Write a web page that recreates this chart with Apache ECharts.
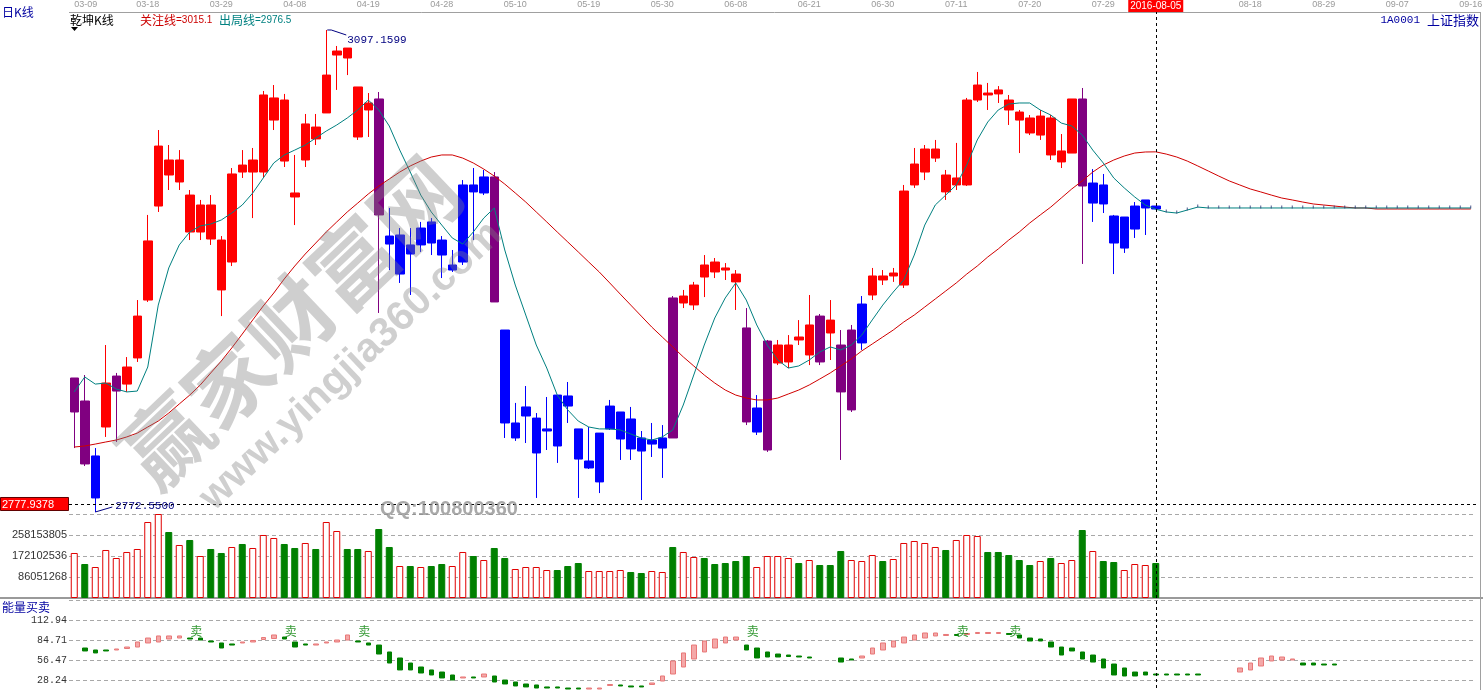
<!DOCTYPE html>
<html><head><meta charset="utf-8">
<script src="https://cdn.jsdelivr.net/npm/echarts@6/dist/echarts.min.js"></script>
<style>html,body{margin:0;padding:0;background:#fff;}#c{width:1483px;height:690px;}</style>
</head><body><div id="c"></div>
<script>
const dates = ['03-09','03-10','03-11','03-14','03-15','03-16','03-17','03-18','03-21','03-22',
'03-23','03-24','03-25','03-28','03-29','03-30','03-31','04-01','04-05','04-06',
'04-07','04-08','04-11','04-12','04-13','04-14','04-15','04-18','04-19','04-20',
'04-21','04-22','04-25','04-26','04-27','04-28','04-29','05-03','05-04','05-05',
'05-06','05-09','05-10','05-11','05-12','05-13','05-16','05-17','05-18','05-19',
'05-20','05-23','05-24','05-25','05-26','05-27','05-30','05-31','06-01','06-02',
'06-03','06-06','06-07','06-08','06-13','06-14','06-15','06-16','06-17','06-20',
'06-21','06-22','06-23','06-24','06-27','06-28','06-29','06-30','07-01','07-04',
'07-05','07-06','07-07','07-08','07-11','07-12','07-13','07-14','07-15','07-18',
'07-19','07-20','07-21','07-22','07-25','07-26','07-27','07-28','07-29','08-01',
'08-02','08-03','08-04','08-05','08-08','08-09','08-10','08-11','08-12','08-15',
'08-16','08-17','08-18','08-19','08-22','08-23','08-24','08-25','08-26','08-29',
'08-30','08-31','09-01','09-02','09-05','09-06','09-07','09-08','09-09','09-12',
'09-13','09-14','09-15','09-16'];

const priceHigh = [2862.8,2864.8,2815.6,2885.0,2866.2,2876.9,2915.3,2972.6,3029.8,3019.7,
3016.3,2989.4,2982.7,2986.0,2958.4,3004.2,3016.3,3017.7,3056.1,3060.1,
3054.1,3013.0,3040.6,3040.6,3097.1599,3086.4,3085.0,3058.8,3054.7,3055.4,
2977.3,2963.8,2963.8,2967.9,2970.5,2958.4,2949.0,2996.1,3004.2,3002.9,
3001.5,2895.1,2846.0,2857.4,2839.2,2850.0,2851.3,2860.1,2828.5,2829.8,
2825.7,2848.0,2839.9,2843.3,2827.1,2832.5,2831.1,2918.0,2922.1,2927.5,
2945.6,2943.6,2940.2,2935.5,2909.9,2851.3,2888.4,2888.4,2891.7,2901.8,
2918.7,2905.9,2915.3,2895.1,2898.5,2918.0,2936.9,2935.5,2936.9,2992.8,
3017.7,3019.7,3023.1,3002.9,3021.1,3051.4,3068.9,3061.5,3059.4,3053.4,
3043.3,3039.9,3043.3,3039.9,3027.1,3050.7,3058.1,3003.5,3000.2,2972.6,
2971.2,2981.3,2982.7,2978.6];
const bodyTop = [2862.8,2847.3,2810.3,2859.4,2864.1,2870.2,2904.5,2955.1,3019.0,3009.6,
3009.6,2986.0,2979.3,2979.3,2955.7,3000.2,3006.2,3009.6,3053.4,3051.4,
3050.0,2987.4,3033.9,3031.8,3066.8,3083.0,3085.0,3058.8,3048.0,3050.7,
2958.4,2959.1,2952.4,2963.8,2967.9,2955.7,2938.9,2992.8,2992.8,2998.2,
2998.2,2895.1,2832.5,2843.3,2835.8,2828.5,2851.3,2850.7,2828.5,2806.9,
2825.7,2843.9,2839.9,2835.2,2822.4,2821.0,2822.4,2916.7,2918.0,2925.4,
2938.9,2940.9,2936.9,2932.8,2896.5,2842.6,2887.7,2885.0,2885.0,2890.4,
2898.5,2904.5,2901.8,2885.0,2895.1,2912.6,2931.5,2931.5,2933.5,2988.7,
3006.9,3017.0,3017.0,2999.5,2997.5,3050.0,3060.1,3054.7,3056.8,3050.0,
3041.9,3037.9,3039.2,3037.9,3015.7,3050.7,3050.7,2994.1,2992.8,2971.9,
2971.2,2978.6,2982.7,2978.6];
const bodyBottom = [2839.9,2804.9,2782.0,2829.8,2854.0,2858.7,2876.3,2915.3,2978.6,2999.5,
2994.8,2961.1,2961.1,2956.4,2922.1,2940.9,3001.5,3001.5,3001.5,3036.5,
3008.9,2984.7,3009.6,3023.8,3041.3,3080.3,3078.3,3025.1,3043.3,2972.6,
2953.0,2932.8,2946.3,2952.4,2953.7,2945.6,2935.5,2940.9,2988.1,2987.4,
2914.0,2832.5,2822.4,2837.2,2812.3,2827.1,2817.0,2843.9,2808.2,2802.2,
2792.8,2828.5,2821.7,2815.0,2813.6,2818.3,2815.6,2822.4,2913.3,2912.0,
2930.8,2934.2,2935.5,2927.5,2833.2,2826.4,2814.3,2872.9,2873.6,2888.4,
2878.3,2873.6,2893.1,2853.4,2841.3,2886.4,2918.7,2928.8,2931.5,2925.4,
2992.8,3001.5,3010.9,2988.1,2992.8,2992.8,3050.0,3053.4,3054.1,3043.3,
3036.5,3027.8,3026.4,3013.0,3008.3,3014.3,2992.1,2980.6,2980.0,2953.7,
2950.3,2963.1,2977.3,2976.6];
const priceLow = [2815.6,2803.5,2772.55,2823.1,2819.7,2853.4,2873.6,2914.0,2974.6,2989.4,
2989.4,2955.7,2955.7,2952.4,2904.5,2938.2,2997.5,2970.5,2997.5,3029.8,
3004.9,2965.8,3004.9,3019.7,3041.3,3056.8,3066.8,3023.1,3025.1,2906.6,
2935.5,2926.8,2918.7,2947.7,2945.6,2930.1,2934.2,2938.9,2955.7,2986.0,
2914.0,2822.4,2820.4,2819.0,2782.0,2814.3,2805.6,2832.5,2782.0,2801.5,
2785.3,2827.8,2807.6,2807.6,2780.6,2809.6,2795.5,2822.4,2909.9,2908.6,
2917.3,2930.1,2928.8,2908.6,2831.1,2824.4,2813.0,2871.5,2869.5,2885.0,
2871.5,2871.5,2874.9,2807.6,2839.9,2881.7,2915.3,2925.4,2927.5,2923.4,
2990.8,2996.1,3008.3,2982.7,2989.4,2992.1,3048.7,3043.3,3048.0,3033.2,
3014.3,3026.4,3023.1,3009.6,3004.2,3014.3,2939.6,2967.9,2973.9,2932.8,
2947.0,2957.1,2959.1,2976.6];
// r = red (bull), b = blue (bear), p = purple (turn)
const candleKind = ['p','p','b','r','p','r','r','r','r','r',
'r','r','r','r','r','r','r','r','r','r',
'r','r','r','r','r','r','r','r','r','p',
'b','b','b','b','b','b','b','b','b','b',
'p','b','b','b','b','b','b','b','b','b',
'b','b','b','b','b','b','b','p','r','r',
'r','r','r','r','p','b','p','r','r','r',
'r','p','r','p','p','b','r','r','r','r',
'r','r','r','r','r','r','r','r','r','r',
'r','r','r','r','r','r','p','b','b','b',
'b','b','b','b'];
// 关注线
const attnLine = [2816.3,2817.0,2818.3,2819.7,2821.0,2823.1,2825.7,2829.8,2833.8,2839.2,
2845.3,2851.3,2858.1,2866.2,2874.2,2883.0,2892.4,2901.9,2911.3,2920.0,
2929.5,2938.2,2946.3,2953.7,2961.1,2967.9,2974.6,2980.6,2986.7,2992.1,
2996.8,3001.5,3005.6,3008.9,3011.6,3013.0,3013.0,3010.9,3007.6,3003.5,
2998.8,2993.4,2987.4,2981.3,2974.6,2967.9,2961.1,2954.4,2947.7,2940.9,
2934.2,2926.8,2919.3,2911.9,2904.5,2897.1,2890.4,2883.7,2877.0,2870.9,
2864.8,2859.4,2854.7,2851.3,2849.3,2848.0,2848.0,2849.3,2852.0,2854.7,
2858.1,2862.1,2866.2,2870.9,2875.6,2881.0,2885.7,2890.4,2895.1,2900.5,
2905.2,2910.6,2916.0,2921.4,2926.8,2932.8,2938.2,2944.3,2949.7,2955.7,
2961.1,2967.2,2972.6,2977.9,2984.0,2990.1,2995.5,3001.5,3006.2,3009.6,
3012.3,3014.3,3015.0,3015.1,3013.6,3011.6,3008.9,3005.6,3002.2,2998.8,
2995.5,2992.8,2990.1,2988.1,2986.0,2984.0,2982.7,2981.3,2980.0,2979.3,
2978.6,2977.9,2977.3,2977.3,2976.6,2976.6,2976.6,2976.6,2976.6,2976.6,
2976.6,2976.6,2976.6,2976.6];
// 出局线
const exitLine = [2853.4,2863.5,2858.7,2859.4,2855.4,2853.4,2854.0,2870.2,2911.9,2936.9,
2952.4,2961.1,2965.2,2966.5,2969.2,2973.9,2979.3,2987.4,2997.5,3007.6,
3013.0,3016.3,3019.7,3024.4,3029.1,3033.2,3037.9,3043.3,3050.0,3043.3,
3032.5,3016.3,3001.5,2986.0,2974.6,2965.8,2957.1,2953.0,2961.1,2970.5,
2977.3,2949.0,2925.4,2905.2,2885.0,2869.5,2851.3,2841.3,2833.8,2829.8,
2828.5,2828.5,2827.8,2825.1,2822.4,2821.0,2823.1,2827.8,2844.6,2864.8,
2885.0,2903.2,2916.7,2926.8,2915.3,2898.5,2885.0,2874.9,2869.5,2870.9,
2874.9,2880.3,2883.7,2881.7,2885.0,2891.7,2901.9,2911.9,2920.7,2928.8,
2945.6,2965.8,2979.3,2986.0,2992.8,3006.2,3023.1,3035.2,3043.3,3047.3,
3048.0,3048.0,3043.3,3039.9,3034.5,3032.5,3026.4,3016.3,3007.6,2997.5,
2990.8,2984.7,2979.3,2976.5,2974.6,2973.9,2975.9,2977.9,2977.3,2977.3,
2977.3,2977.3,2977.3,2977.3,2977.3,2977.3,2977.3,2977.3,2977.3,2977.3,
2977.3,2977.3,2977.3,2977.3,2977.3,2977.3,2977.3,2977.3,2977.3,2977.3,
2977.3,2977.3,2977.3,2977.3];
// volume, millions of shares
const volumeM = [184.4,139.3,127.0,196.7,163.9,188.5,200.8,311.4,344.2,270.4,
217.2,237.7,172.1,200.8,184.4,209.0,221.3,204.9,258.2,245.9,
221.3,204.9,225.4,200.8,311.4,274.5,200.8,200.8,192.6,282.7,
209.0,131.1,131.1,127.0,131.1,139.3,131.1,188.5,172.1,155.7,
204.9,163.9,118.8,127.0,127.0,114.7,114.7,131.1,143.4,110.6,
110.6,110.6,114.7,106.5,102.4,110.6,106.5,209.0,188.5,168.0,
163.9,139.3,143.4,151.6,172.1,127.0,172.1,172.1,163.9,143.4,
155.7,135.2,135.2,192.6,155.7,151.6,176.2,151.6,159.8,225.4,
233.6,225.4,209.0,196.7,237.7,258.2,254.1,188.5,188.5,176.2,
155.7,135.2,151.6,163.9,143.4,155.7,278.6,192.6,151.6,147.5,
114.7,139.3,135.2,143.4];
const volumeUp = ['r','g','r','r','r','r','r','r','r','g',
'r','g','r','g','g','r','g','r','r','r',
'g','g','r','g','r','r','g','g','r','g',
'g','r','g','r','g','g','r','r','g','r',
'g','g','r','r','r','r','g','g','g','r',
'r','r','r','g','g','r','r','g','r','r',
'g','g','g','g','g','r','r','r','r','g',
'r','g','g','g','r','r','r','g','r','r',
'r','r','r','g','r','r','r','g','g','g',
'g','g','r','g','r','r','g','r','g','g',
'r','r','r','g'];
// 能量买卖 (open, close of each small bar)
const energyOpen = [null,73.4,70.6,70.6,70.6,72.7,74.8,80.5,81.9,86.1,
87.5,87.5,87.5,83.3,80.5,79.1,80.5,81.9,85.4,86.8,
88.9,81.9,79.1,77.6,80.5,81.9,84.7,83.3,80.5,77.6,
67.8,59.3,52.2,46.6,42.4,39.5,35.3,31.1,32.5,32.5,
33.9,28.2,25.4,22.6,21.2,18.4,18.4,16.9,16.9,15.5,
15.5,20.5,21.2,19.8,19.8,21.9,26.8,36.7,46.6,57.9,
67.8,73.4,80.5,84.7,77.6,73.4,67.8,64.9,63.5,62.1,
60.7,null,null,59.3,57.9,59.3,64.9,70.6,74.8,80.5,
84.7,87.5,90.4,91.1,92.5,92.5,93.9,93.9,93.9,93.9,
91.8,87.5,86.1,81.9,74.8,73.4,67.8,63.5,57.9,50.8,
45.2,39.5,39.5,36.7,36.7,36.7,36.7,36.7,null,null,
null,39.5,42.4,48.0,55.1,56.5,56.5,52.2,52.2,50.8,
50.8,null,null,null,null,null,null,null,null,null,
null,null,null,null];
const energyClose = [null,69.2,66.4,69.2,72.0,74.8,81.9,87.5,90.4,90.4,
90.4,86.1,84.7,81.9,73.4,77.6,81.9,84.0,88.2,91.8,
86.1,74.8,77.6,79.1,81.9,84.7,91.8,81.9,77.6,64.9,
52.2,42.4,42.4,38.1,35.3,31.1,28.2,32.5,31.1,36.7,
25.4,22.6,19.8,18.4,16.9,16.9,16.9,15.5,15.5,16.9,
16.9,21.9,19.8,18.4,18.4,24.0,33.9,55.1,66.4,77.6,
83.3,86.1,88.9,88.9,70.6,59.3,60.7,60.7,61.4,60.7,
59.3,null,null,53.6,56.5,62.1,73.4,80.5,83.3,88.9,
91.8,94.6,94.6,92.5,91.1,93.9,95.3,95.3,95.3,92.5,
87.5,83.3,83.3,74.8,63.5,69.2,57.9,53.6,45.2,35.3,
33.9,33.9,35.3,35.3,35.3,35.3,35.3,35.3,null,null,
null,45.2,52.2,59.3,62.1,60.7,57.9,49.4,49.4,49.4,
49.4,null,null,null,null,null,null,null,null,null,
null,null,null,null];
const sellIdx = [11,20,27,64,84,89];
const cursorIdx = 103;
const cursorPrice = 2777.9378;
const volTicks = ['86051268','172102536','258153805'];
const energyTicks = ['28.24','56.47','84.71','112.94'];

const KCOL = {r:'#FF0000', b:'#0000FF', p:'#800080'};
const candleData = priceHigh.map((h,i)=>{
  const k = candleKind[i], c = KCOL[k];
  const v = k==='r' ? [bodyBottom[i], bodyTop[i], priceLow[i], h] : [bodyTop[i], bodyBottom[i], priceLow[i], h];
  return {value:v, itemStyle:{color:c,color0:c,borderColor:c,borderColor0:c,borderWidth:1}};
});
const volData = volumeM.map((v,i)=> volumeUp[i]==='r'
  ? {value:v, itemStyle:{color:'#FFFFFF', borderColor:'#E00000', borderWidth:1}}
  : {value:v, itemStyle:{color:'#008000', borderColor:'#008000', borderWidth:1}});
const energyData = [];
energyOpen.forEach((o,i)=>{
  if (o==null) return;
  const c = energyClose[i];
  const up = c >= o;
  const col = up ? '#F4A8A8' : '#008000';
  const bc = up ? '#E87878' : '#008000';
  energyData.push({value:[i,o,c,Math.min(o,c),Math.max(o,c)], itemStyle:{color:col,color0:col,borderColor:bc,borderColor0:bc,borderWidth:1}});
});
const futureTicks = [];
for (let i=cursorIdx+1;i<dates.length;i++) futureTicks.push([i, exitLine[i]]);

const cursorLine = {symbol:'none', silent:true, animation:false, label:{show:false},
  lineStyle:{color:'#000', type:[3,3], width:1}, data:[{xAxis:cursorIdx}]};

const chart = echarts.init(document.getElementById('c'), null, {renderer:'canvas', width:1483, height:690});
const option = {
  animation:false,
  backgroundColor:'#fff',
  grid:[
    {left:69, top:12, width:1407, height:500, outerBoundsMode:'none', containLabel:false},
    {left:69, top:514, width:1407, height:84, outerBoundsMode:'none', containLabel:false},
    {left:69, top:600, width:1407, height:100, outerBoundsMode:'none', containLabel:false}
  ],
  xAxis:[
    {type:'category', gridIndex:0, data:dates, position:'top', boundaryGap:true,
     axisLine:{show:false}, axisTick:{show:false}, splitLine:{show:false},
     axisLabel:{interval:(i)=> i%7===0 && i!==105, color:'#9a9a9a', fontSize:9, fontFamily:'Liberation Sans', margin:3, alignMinLabel:'left'}},
    {type:'category', gridIndex:1, data:dates, show:false},
    {type:'category', gridIndex:2, data:dates, show:false}
  ],
  yAxis:[
    {type:'value', gridIndex:0, min:2772.55, max:3109.28, show:false, splitLine:{show:false}},
    {type:'value', gridIndex:1, min:0, max:344.205072, interval:86.051268,
     axisLine:{show:false}, axisTick:{show:false},
     axisLabel:{formatter:(v)=>{const k=Math.round(v/86.051268); return (k>=1&&k<=3)?volTicks[k-1]:'';},
       fontSize:11, fontFamily:'Liberation Sans', color:'#333', margin:2},
     splitLine:{lineStyle:{type:[4,3], color:'#a8a8a8', width:1}}},
    {type:'value', gridIndex:2, min:0, max:141.175, interval:28.235,
     axisLine:{show:false}, axisTick:{show:false},
     axisLabel:{formatter:(v)=>{const k=Math.round(v/28.235); return (k>=1&&k<=4)?energyTicks[k-1]:'';},
       fontSize:10, fontFamily:'Liberation Mono', color:'#333', margin:2},
     splitLine:{lineStyle:{type:[4,3], color:'#a8a8a8', width:1}}}
  ],
  series:[
    {type:'candlestick', xAxisIndex:0, yAxisIndex:0, barWidth:9, data:candleData, z:2,
     markLine:{symbol:'none', silent:true, animation:false, label:{show:false},
       lineStyle:{color:'#000', type:[3,3], width:1}, data:[{yAxis:cursorPrice},{xAxis:cursorIdx}]}},
    {type:'line', name:'关注线', xAxisIndex:0, yAxisIndex:0, data:attnLine, showSymbol:false, z:3,
     lineStyle:{color:'#D00000', width:1}},
    {type:'line', name:'出局线', xAxisIndex:0, yAxisIndex:0, data:exitLine, showSymbol:false, z:4,
     lineStyle:{color:'#008080', width:1}},
    {type:'scatter', xAxisIndex:0, yAxisIndex:0, data:futureTicks, symbol:'rect', symbolSize:[1,3],
     symbolOffset:[0,-1], itemStyle:{color:'#203070'}, z:5},
    {type:'bar', xAxisIndex:1, yAxisIndex:1, barWidth:7, data:volData, markLine:cursorLine},
    {type:'candlestick', xAxisIndex:2, yAxisIndex:2, barWidth:5, data:energyData,
     encode:{x:0, y:[1,2,3,4]}, markLine:cursorLine},
    {type:'scatter', xAxisIndex:2, yAxisIndex:2, symbolSize:1, itemStyle:{color:'rgba(0,0,0,0)'},
     data:sellIdx.map(i=>[i, 97.4]),
     label:{show:true, formatter:'卖', position:'right', distance:0, color:'#008000', fontSize:12, fontFamily:'Noto Sans CJK SC'}}
  ]
};
chart.setOption(option);

const px = (g, x, y) => chart.convertToPixel({gridIndex:g}, [x, y]);
const cur = px(0, cursorIdx, cursorPrice);
const hiIdx = priceHigh.indexOf(Math.max(...priceHigh));
const loIdx = priceLow.indexOf(Math.min(...priceLow));
const hiP = px(0, hiIdx, priceHigh[hiIdx]);
const loP = px(0, loIdx, priceLow[loIdx]);
const CJK = 'Noto Sans CJK SC';
const g = [
  {type:'line', shape:{x1:69, y1:12.5, x2:1480, y2:12.5}, style:{stroke:'#a0a0a0', lineWidth:1}, silent:true},
  {type:'rect', shape:{x:0, y:597, width:1483, height:2}, style:{fill:'#9a9a9a'}, silent:true},
  {type:'line', shape:{x1:1480.5, y1:12, x2:1480.5, y2:690}, style:{stroke:'#a0a0a0', lineWidth:1}, silent:true},
  {type:'rect', shape:{x:cur[0]-27.5, y:0, width:55, height:12}, style:{fill:'#FF0000'}, z:50},
  {type:'text', x:cur[0], y:6.5, z:51, style:{text:'2016-'+dates[cursorIdx], fill:'#fff', font:'10px Liberation Sans', align:'center', verticalAlign:'middle'}},
  {type:'rect', shape:{x:0.5, y:cur[1]-6.5, width:68, height:13}, style:{fill:'#FF0000', stroke:'#600000', lineWidth:1}, z:50},
  {type:'text', x:2, y:cur[1]+0.5, z:51, style:{text:cursorPrice.toFixed(4), fill:'#fff', font:'11px Liberation Sans', align:'left', verticalAlign:'middle'}},
  {type:'polyline', shape:{points:[[hiP[0]+1,hiP[1]],[hiP[0]+5,hiP[1]],[hiP[0]+20,hiP[1]+5]]}, style:{stroke:'#000080', lineWidth:1, fill:null}, z:20},
  {type:'text', x:hiP[0]+21, y:hiP[1]+5, z:20, style:{text:priceHigh[hiIdx].toFixed(4), fill:'#000080', font:'11px Liberation Mono', align:'left', verticalAlign:'top'}},
  {type:'polyline', shape:{points:[[loP[0],loP[1]],[loP[0]+17,loP[1]-5]]}, style:{stroke:'#000080', lineWidth:1, fill:null}, z:20},
  {type:'text', x:loP[0]+20, y:loP[1]-6, z:20, style:{text:priceLow[loIdx].toFixed(4), fill:'#000080', font:'11px Liberation Mono', align:'left', verticalAlign:'middle'}},
  {type:'text', x:2, y:12.5, style:{text:'日K线', fill:'#0000A0', font:'12px '+CJK, align:'left', verticalAlign:'middle'}},
  {type:'text', x:70, y:20, style:{text:'乾坤K线', fill:'#000', font:'12px '+CJK, align:'left', verticalAlign:'middle'}},
  {type:'polygon', shape:{points:[[71,27],[78,27],[74.5,31]]}, style:{fill:'#000'}},
  {type:'text', x:140, y:20, style:{text:'关注线', fill:'#CC0000', font:'12px '+CJK, align:'left', verticalAlign:'middle'}},
  {type:'text', x:176, y:20.5, style:{text:'='+attnLine[cursorIdx].toFixed(1), fill:'#CC0000', font:'10px Liberation Sans', align:'left', verticalAlign:'middle'}},
  {type:'text', x:219, y:20, style:{text:'出局线', fill:'#008080', font:'12px '+CJK, align:'left', verticalAlign:'middle'}},
  {type:'text', x:255, y:20.5, style:{text:'='+exitLine[cursorIdx].toFixed(1), fill:'#008080', font:'10px Liberation Sans', align:'left', verticalAlign:'middle'}},
  {type:'text', x:1479, y:20, style:{text:'上证指数', fill:'#0000A0', font:'13px '+CJK, align:'right', verticalAlign:'middle'}},
  {type:'text', x:1420, y:20, style:{text:'1A0001', fill:'#0000A0', font:'11px Liberation Mono', align:'right', verticalAlign:'middle'}},
  {type:'text', x:2, y:607.5, style:{text:'能量买卖', fill:'#0000A0', font:'12px '+CJK, align:'left', verticalAlign:'middle'}},
  {type:'text', x:380, y:509, z:90, style:{text:'QQ:100800360', fill:'rgba(140,140,140,0.75)', font:'bold 20px Liberation Sans', align:'left', verticalAlign:'middle'}},
  {type:'text', x:290, y:322, rotation:0.76, z:100, silent:true, style:{text:'赢家财富网', fill:'rgba(130,130,130,0.38)', font:'bold 86px '+CJK, align:'center', verticalAlign:'middle'}},
  {type:'text', x:351, y:366, rotation:0.76, z:100, silent:true, style:{text:'www.yingjia360.com', fill:'rgba(130,130,130,0.38)', font:'bold 41px Liberation Sans', align:'center', verticalAlign:'middle'}}
];
chart.setOption({graphic:g});
</script></body></html>
